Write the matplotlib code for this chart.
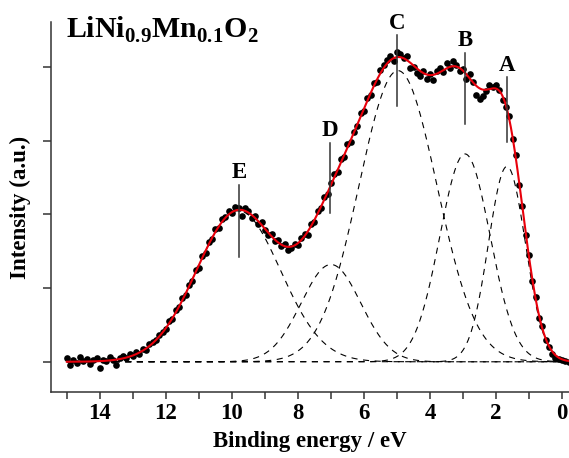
import numpy as np
import matplotlib.pyplot as plt
from matplotlib.ticker import MultipleLocator

plt.rcParams['font.family'] = 'Liberation Serif'
plt.rcParams['font.weight'] = 'bold'
plt.rcParams['mathtext.fontset'] = 'custom'
plt.rcParams['mathtext.rm'] = 'Liberation Serif:bold'
plt.rcParams['mathtext.bf'] = 'Liberation Serif:bold'

# measured spectrum (binding energy in eV, intensity in a.u.)
energy = np.round(np.arange(15.0, -0.25, -0.1), 2)
counts = [0.05, -0.04, 0.03, -0.02, 0.06, 0.01, 0.04, -0.03, 0.02, 0.05,
          -0.08, 0.03, 0.01, 0.06, 0.02, -0.05, 0.05, 0.08, 0.05, 0.10,
          0.08, 0.13, 0.11, 0.17, 0.16, 0.24, 0.27, 0.29, 0.36, 0.40,
          0.44, 0.55, 0.58, 0.70, 0.74, 0.86, 0.90, 1.04, 1.10, 1.24,
          1.27, 1.44, 1.48, 1.62, 1.66, 1.80, 1.81, 1.94, 1.96, 2.05,
          2.02, 2.10, 2.08, 1.98, 2.09, 2.05, 1.95, 1.98, 1.87, 1.89,
          1.79, 1.72, 1.74, 1.64, 1.65, 1.57, 1.60, 1.52, 1.55, 1.60,
          1.58, 1.68, 1.73, 1.72, 1.87, 1.90, 2.05, 2.08, 2.24, 2.27,
          2.42, 2.55, 2.58, 2.75, 2.78, 2.95, 2.98, 3.12, 3.20, 3.38,
          3.40, 3.58, 3.62, 3.78, 3.80, 3.96, 4.02, 4.10, 4.15, 4.08,
          4.20, 4.18, 4.12, 4.15, 3.98, 4.00, 3.92, 3.88, 3.95, 3.84,
          3.90, 3.82, 3.95, 3.98, 3.93, 4.05, 3.99, 4.08, 4.02, 3.95,
          3.97, 3.83, 3.90, 3.80, 3.62, 3.57, 3.60, 3.68, 3.76, 3.73,
          3.75, 3.69, 3.55, 3.45, 3.33, 3.02, 2.80, 2.40, 2.12, 1.72,
          1.45, 1.10, 0.88, 0.60, 0.48, 0.30, 0.20, 0.10, 0.05, 0.04,
          0.02, 0.01, 0.00]

# fitted gaussian components
names = ['A', 'B', 'C', 'D', 'E']
centres = [1.67, 2.94, 4.97, 7.0, 9.8]
heights = [2.65, 2.82, 3.95, 1.32, 2.05]
widths = [0.56, 0.76, 1.18, 0.9, 1.27]

# marker positions for labels (x, bottom, top of line)
mark_x = [1.67, 2.94, 5.0, 7.03, 9.79]
mark_lo = [2.98, 3.23, 3.47, 2.02, 1.42]
mark_hi = [3.86, 4.19, 4.43, 2.97, 2.40]

xf = np.linspace(15.0, -0.2, 600)
fit = np.zeros_like(xf)

fig = plt.figure(figsize=(5.69, 4.58), dpi=100)
ax = fig.add_axes([51/569, 1-392/458, 1-51/569, 370/458])

for c, h, w in zip(centres, heights, widths):
    g = h*np.exp(-(xf-c)**2/(2*w*w))
    fit += g
    ax.plot(xf, g, color='k', lw=0.8, ls=(0, (5.5, 5)), zorder=1)

ax.plot(energy, counts, 'o', color='k', ms=4.8, mew=0, zorder=2)
ax.plot(xf, fit, color='#e8000b', lw=1.5, zorder=3)

for n, mx, lo, hi in zip(names, mark_x, mark_lo, mark_hi):
    ax.plot([mx, mx], [lo, hi], color='#333333', lw=1.1, zorder=4)
    ax.text(mx, hi + 0.09, n, ha='center', va='baseline', fontsize=16.5,
            fontweight='bold')

ax.set_xlim(15.48, -0.21)
ax.set_ylim(-0.41, 4.61)
ax.xaxis.set_major_locator(MultipleLocator(2))
ax.xaxis.set_minor_locator(MultipleLocator(1))
ax.yaxis.set_major_locator(MultipleLocator(1))
ax.set_yticklabels([])
ax.tick_params(axis='x', which='both', direction='out', length=5,
               width=1.1, color='#333333', labelsize=16.5, pad=3)
ax.tick_params(axis='y', direction='out', length=6, width=1.1,
               color='#333333')
for s in ['top', 'right']:
    ax.spines[s].set_visible(False)
for s in ['left', 'bottom']:
    ax.spines[s].set_linewidth(1.1)
    ax.spines[s].set_color('#333333')

ax.set_xlabel('Binding energy / eV', fontsize=16.5, fontweight='bold',
              labelpad=5)
ax.set_ylabel('Intensity (a.u.)', fontsize=16.5, fontweight='bold',
              labelpad=5)
fig.text(66/569, 1-38/458, r'LiNi$_{0.9}$Mn$_{0.1}$O$_2$', fontsize=21.5,
         fontweight='bold', va='baseline')

fig.savefig('out.png')
